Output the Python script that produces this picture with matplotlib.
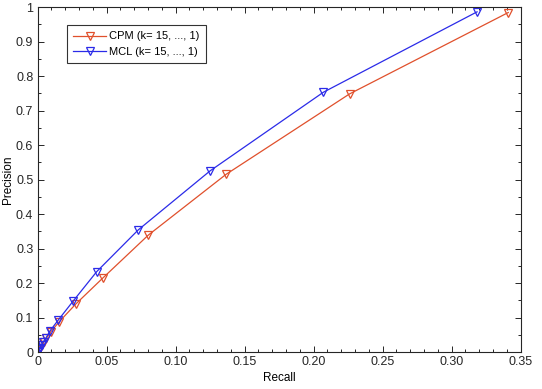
import numpy as np
import matplotlib
matplotlib.use('Agg')
import matplotlib.pyplot as plt
from matplotlib.ticker import MultipleLocator

plt.rcParams['font.family'] = ['Liberation Sans', 'DejaVu Sans']

# === DATA (k = 15 ... 1) ===
cpm_recall = [0.0003, 0.0007, 0.0012, 0.002, 0.003, 0.0045, 0.0065, 0.0095,
              0.0158, 0.0277, 0.0472, 0.0803, 0.1366, 0.226, 0.341]
cpm_precision = [0.001, 0.004, 0.007, 0.012, 0.019, 0.028, 0.040, 0.058,
                 0.088, 0.139, 0.214, 0.339, 0.515, 0.748, 0.984]

mcl_recall = [0.0002, 0.0006, 0.0011, 0.0018, 0.0029, 0.0043, 0.0063, 0.0092,
              0.0151, 0.0259, 0.0429, 0.073, 0.125, 0.2071, 0.3184]
mcl_precision = [0.001, 0.004, 0.008, 0.013, 0.020, 0.030, 0.042, 0.062,
                 0.093, 0.148, 0.233, 0.354, 0.525, 0.753, 0.986]

xticks = [0, 0.05, 0.10, 0.15, 0.20, 0.25, 0.30, 0.35]
xtick_labels = ['0', '0.05', '0.10', '0.15', '0.20', '0.25', '0.30', '0.35']
yticks = [0, 0.1, 0.2, 0.3, 0.4, 0.5, 0.6, 0.7, 0.8, 0.9, 1.0]
ytick_labels = ['0', '0.1', '0.2', '0.3', '0.4', '0.5', '0.6', '0.7', '0.8', '0.9', '1']

red = '#e0502c'
blue = '#2b2be8'

fig = plt.figure(figsize=(5.42, 3.89), dpi=100)
ax = fig.add_axes([0.0692, 0.0951, 0.8915, 0.8869])

ax.plot(cpm_recall, cpm_precision, '-', color=red, linewidth=0.9,
        marker='v', markersize=6, markerfacecolor='none', markeredgecolor=red,
        markeredgewidth=0.9, label='CPM (k= 15, ..., 1)')
ax.plot(mcl_recall, mcl_precision, '-', color=blue, linewidth=0.9,
        marker='v', markersize=6, markerfacecolor='none', markeredgecolor=blue,
        markeredgewidth=0.9, label='MCL (k= 15, ..., 1)')

ax.set_xlim(0, 0.35)
ax.set_ylim(0, 1)
ax.set_xticks(xticks)
ax.set_xticklabels(xtick_labels)
ax.set_yticks(yticks)
ax.set_yticklabels(ytick_labels)
ax.xaxis.set_minor_locator(MultipleLocator(0.01))
ax.yaxis.set_minor_locator(MultipleLocator(0.05))
ax.tick_params(which='both', direction='in', top=True, right=True,
               labelsize=9, colors='#262626', width=0.7, pad=3)
ax.tick_params(which='major', length=4)
ax.tick_params(which='minor', length=2)
for s in ax.spines.values():
    s.set_linewidth(0.8)
    s.set_color('#262626')

ax.set_xlabel('Recall', fontsize=8.5, va='center')
ax.set_ylabel('Precision', fontsize=8.5, va='center')
ax.xaxis.set_label_coords(0.5, -0.075)
ax.yaxis.set_label_coords(-0.061, 0.5)

leg = ax.legend(loc='upper left', bbox_to_anchor=(0.061, 0.947), fontsize=8,
                frameon=True, fancybox=False, borderpad=0.55,
                handlelength=3.0, handletextpad=0.25, labelspacing=0.5,
                borderaxespad=0)
leg.get_frame().set_edgecolor('black')
leg.get_frame().set_linewidth(0.8)

plt.savefig('out.png', dpi=100)
